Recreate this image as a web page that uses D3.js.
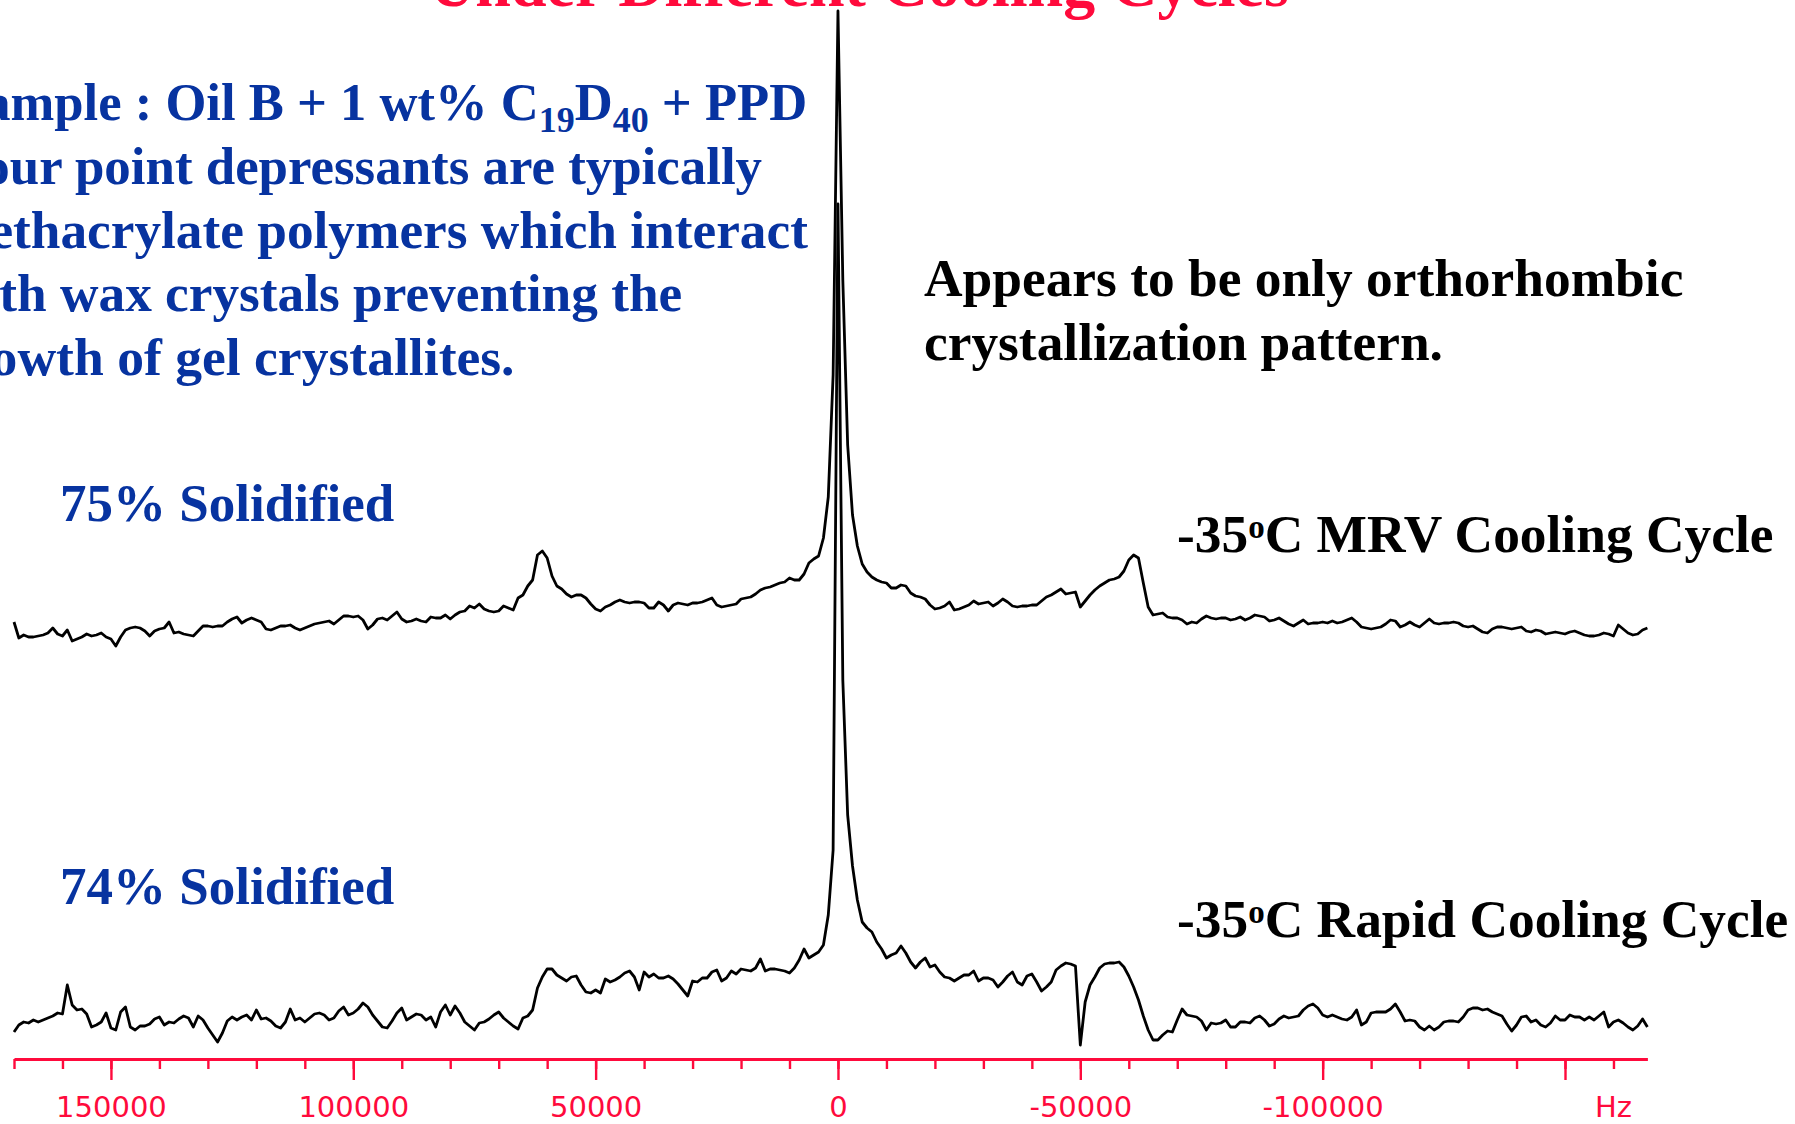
<!DOCTYPE html>
<html>
<head>
<meta charset="utf-8">
<script src="https://cdn.jsdelivr.net/npm/d3@7"></script>
<style>
  html, body { margin: 0; padding: 0; background: #ffffff; overflow: hidden; }
  svg { display: block; }
</style>
</head>
<body>
<svg id="chart" width="1795" height="1124"></svg>
<script>
// Deuterium NMR spectra of the wax-doped oil, sampled every 1 kHz
// from +170 kHz down to -167 kHz (intensities in arbitrary units).
const freqStartHz = 170000;
const freqStepHz = -1000;

// -35 °C, MRV cooling cycle (75 % solidified)
const mrvIntensity = [
  18, 2, 5, 3, 3, 4, 5, 7, 12, 6,
  4, 10, -1, 1, 3, 6, 4, 5, 7, 3,
  1, -6, 3, 10, 12, 13, 12, 9, 4, 9,
  11, 12, 18, 7, 8, 6, 5, 4, 9, 14,
  14, 13, 14, 14, 18, 21, 23, 17, 20, 22,
  20, 18, 11, 10, 12, 14, 14, 15, 12, 10,
  12, 14, 16, 17, 18, 19, 16, 20, 24, 24,
  23, 24, 20, 11, 15, 21, 22, 20, 24, 28,
  21, 18, 19, 21, 19, 18, 23, 22, 22, 25,
  21, 25, 28, 29, 34, 32, 36, 31, 29, 28,
  29, 34, 32, 30, 42, 45, 54, 60, 85, 89,
  82, 64, 54, 51, 46, 43, 45, 45, 42, 36,
  31, 29, 33, 35, 38, 40, 38, 37, 38, 38,
  37, 32, 32, 38, 35, 29, 35, 37, 36, 35,
  37, 37, 38, 40, 42, 35, 33, 34, 35, 36,
  41, 42, 43, 46, 50, 52, 53, 55, 57, 58,
  62, 60, 60, 66, 77, 81, 84, 102, 143, 265,
  629, 360, 195, 125, 94, 76, 68, 63, 60, 58,
  57, 52, 52, 55, 54, 47, 44, 43, 41, 35,
  31, 32, 34, 38, 30, 31, 33, 35, 39, 36,
  37, 38, 34, 37, 41, 38, 34, 33, 34, 34,
  35, 35, 39, 43, 45, 48, 51, 46, 47, 48,
  33, 39, 45, 50, 54, 57, 60, 61, 63, 69,
  80, 85, 82, 57, 33, 25, 26, 27, 23, 22,
  22, 20, 16, 18, 17, 21, 24, 22, 21, 22,
  22, 20, 21, 23, 20, 22, 25, 24, 23, 19,
  20, 22, 19, 16, 14, 17, 20, 16, 17, 17,
  18, 17, 19, 17, 18, 20, 22, 18, 13, 12,
  11, 12, 13, 16, 20, 19, 13, 15, 18, 15,
  13, 17, 21, 17, 16, 17, 17, 18, 17, 14,
  13, 14, 11, 8, 7, 11, 13, 13, 12, 11,
  12, 13, 9, 8, 10, 9, 6, 7, 8, 7,
  6, 8, 9, 7, 5, 4, 4, 5, 7, 6,
  4, 15, 11, 7, 5, 6, 10, 12
];

// -35 °C, rapid cooling cycle (74 % solidified)
const rapidIntensity = [
  8, 15, 18, 17, 20, 18, 20, 22, 24, 27,
  26, 55, 35, 30, 31, 26, 13, 15, 18, 27,
  12, 10, 28, 33, 13, 10, 14, 14, 16, 21,
  23, 15, 18, 17, 21, 24, 22, 13, 24, 20,
  12, 5, -2, 7, 19, 23, 20, 23, 25, 20,
  30, 21, 22, 19, 14, 12, 18, 31, 20, 22,
  18, 22, 26, 27, 25, 20, 22, 29, 33, 25,
  27, 31, 37, 33, 25, 19, 13, 12, 19, 27,
  32, 20, 23, 26, 25, 20, 23, 13, 28, 35,
  25, 34, 27, 18, 14, 10, 17, 18, 21, 25,
  28, 22, 18, 14, 11, 22, 24, 30, 52, 63,
  71, 71, 65, 62, 59, 63, 64, 55, 48, 47,
  50, 47, 61, 58, 60, 63, 67, 69, 63, 50,
  68, 63, 66, 62, 62, 64, 61, 56, 50, 44,
  59, 58, 62, 62, 68, 70, 59, 62, 69, 66,
  71, 70, 69, 72, 81, 69, 71, 71, 70, 69,
  67, 72, 80, 91, 82, 85, 88, 95, 125, 190,
  836, 360, 225, 174, 140, 118, 112, 108, 98, 91,
  82, 85, 87, 94, 87, 78, 72, 78, 82, 73,
  75, 68, 63, 62, 59, 62, 65, 65, 69, 59,
  62, 62, 60, 53, 58, 64, 68, 58, 55, 64,
  66, 58, 49, 53, 58, 70, 74, 77, 76, 74,
  -5, 38, 55, 63, 72, 76, 77, 77, 78, 73,
  64, 53, 40, 24, 10, 0, 0, 5, 9, 8,
  20, 31, 25, 24, 23, 19, 10, 17, 16, 17,
  20, 13, 13, 18, 18, 17, 22, 24, 20, 14,
  16, 21, 24, 22, 23, 24, 30, 34, 36, 32,
  25, 23, 25, 23, 21, 20, 23, 30, 15, 18,
  27, 28, 28, 28, 31, 36, 28, 19, 20, 19,
  13, 10, 14, 10, 13, 18, 19, 19, 18, 23,
  30, 32, 32, 30, 31, 28, 26, 24, 16, 9,
  15, 23, 24, 18, 20, 15, 13, 17, 24, 20,
  20, 25, 23, 23, 20, 23, 20, 24, 28, 13,
  18, 20, 17, 13, 10, 14, 21, 13
];

// Frequency axis
const majorTickHz = [150000, 100000, 50000, 0, -50000, -100000, -150000];
const majorTickLabels = ["150000", "100000", "50000", "0", "-50000", "-100000", ""];
const minorTickHz = d3.range(170000, -165000, -10000);
const unitLabel = "Hz";
const unitLabelHz = -160000;

// Text blocks
const titleText = "Under Different Cooling Cycles";
const sampleLines = [
  [{ t: "Sample : Oil B + 1 wt% C" }, { t: "19", sub: true }, { t: "D" }, { t: "40", sub: true }, { t: " + PPD" }],
  [{ t: "Pour point depressants are typically" }],
  [{ t: "methacrylate polymers which interact" }],
  [{ t: "with wax crystals preventing the" }],
  [{ t: "growth of gel crystallites." }]
];
const sampleLineIndent = [-45, -49, -55, -54, -59];
const sampleLineSize = [52.6, 52.9, 53.3, 53.3, 53.6];
const noteLines = ["Appears to be only orthorhombic", "crystallization pattern."];
const traceNames = ["MRV Cooling Cycle", "Rapid Cooling Cycle"];
const solidFractions = ["75% Solidified", "74% Solidified"];

// ---------------------------------------------------------------
const W = 1795, H = 1124;
const RED = "#ff0a3c", BLUE = "#0733a0", SERIF = "'Liberation Serif', 'Times New Roman', serif";

const svg = d3.select("#chart");
svg.append("rect").attr("width", W).attr("height", H).attr("fill", "#ffffff");

const freqs = mrvIntensity.map((_, i) => freqStartHz + i * freqStepHz);
const x = d3.scaleLinear().domain([170000, -167000]).range([14, 1647.4]);

// each trace gets its own vertical scale (stacked display)
const yMrv = d3.scaleLinear().domain([0, 630]).range([640, 10]);
const yRapid = d3.scaleLinear().domain([0, 840]).range([1040, 200]);

// --- axis -------------------------------------------------------
const axisY = 1059;
const labelFont = "'DejaVu Sans', sans-serif";
const minorAxis = svg.append("g")
  .attr("transform", `translate(0,${axisY})`)
  .call(d3.axisBottom(x).tickValues(minorTickHz).tickSize(10).tickSizeOuter(0).tickFormat(""));
minorAxis.select(".domain").remove();
minorAxis.selectAll(".tick line").attr("stroke", RED).attr("stroke-width", 2.4);

const majorAxis = svg.append("g")
  .attr("transform", `translate(0,${axisY})`)
  .call(d3.axisBottom(x).tickValues(majorTickHz).tickSize(21).tickSizeOuter(0).tickPadding(16)
    .tickFormat((d, i) => majorTickLabels[i]));
majorAxis.select(".domain").attr("stroke", RED).attr("stroke-width", 3.2);
majorAxis.selectAll(".tick line").attr("stroke", RED).attr("stroke-width", 2.4);
majorAxis.selectAll(".tick text")
  .attr("fill", RED)
  .style("font-family", labelFont)
  .style("font-size", "29px");

majorAxis.append("text")
  .attr("x", x(unitLabelHz))
  .attr("y", 37)
  .attr("dy", "0.71em")
  .attr("text-anchor", "middle")
  .attr("fill", RED)
  .style("font-family", labelFont)
  .style("font-size", "29px")
  .text(unitLabel);

// --- spectra ------------------------------------------------------
const traces = [
  { values: mrvIntensity, y: yMrv },
  { values: rapidIntensity, y: yRapid }
];
traces.forEach(tr => {
  const line = d3.line()
    .x((d, i) => x(freqs[i]))
    .y(d => tr.y(d));
  svg.append("path")
    .datum(tr.values)
    .attr("d", line)
    .attr("fill", "none")
    .attr("stroke", "#000000")
    .attr("stroke-width", 2.8)
    .attr("stroke-linejoin", "round");
});

// --- text ------------------------------------------------------------
svg.append("text")
  .attr("x", 859).attr("y", 6)
  .attr("text-anchor", "middle")
  .attr("fill", RED)
  .style("font-family", SERIF).style("font-weight", "bold").style("font-size", "64px")
  .text(titleText);

const sample = svg.append("g")
  .attr("fill", BLUE)
  .style("font-family", SERIF).style("font-weight", "bold");
sampleLines.forEach((parts, li) => {
  const t = sample.append("text")
    .attr("x", sampleLineIndent[li])
    .attr("y", 120 + li * 63.8)
    .style("font-size", sampleLineSize[li] + "px");
  let shifted = false;
  parts.forEach(p => {
    const s = t.append("tspan").text(p.t);
    if (p.sub && !shifted) { s.attr("dy", 12).style("font-size", "36px"); shifted = true; }
    else if (!p.sub && shifted) { s.attr("dy", -12); shifted = false; }
    else if (p.sub) { s.style("font-size", "36px"); }
  });
});

const note = svg.append("g")
  .attr("fill", "#000000")
  .style("font-family", SERIF).style("font-weight", "bold").style("font-size", "53.4px");
noteLines.forEach((s, i) => {
  note.append("text").attr("x", 924).attr("y", 296 + i * 64).text(s);
});

const traceLabelY = [552, 937];
const fractionLabelY = [521, 904];
traceNames.forEach((name, i) => {
  const t = svg.append("text")
    .attr("x", 1177).attr("y", traceLabelY[i])
    .attr("fill", "#000000")
    .style("font-family", SERIF).style("font-weight", "bold").style("font-size", "53.4px");
  t.append("tspan").text("-35");
  t.append("tspan").attr("dy", -14).style("font-size", "33px").text("o");
  t.append("tspan").attr("dy", 14).text("C " + name);

  svg.append("text")
    .attr("x", 60).attr("y", fractionLabelY[i])
    .attr("fill", BLUE)
    .style("font-family", SERIF).style("font-weight", "bold").style("font-size", "53px")
    .text(solidFractions[i]);
});
</script>
</body>
</html>
